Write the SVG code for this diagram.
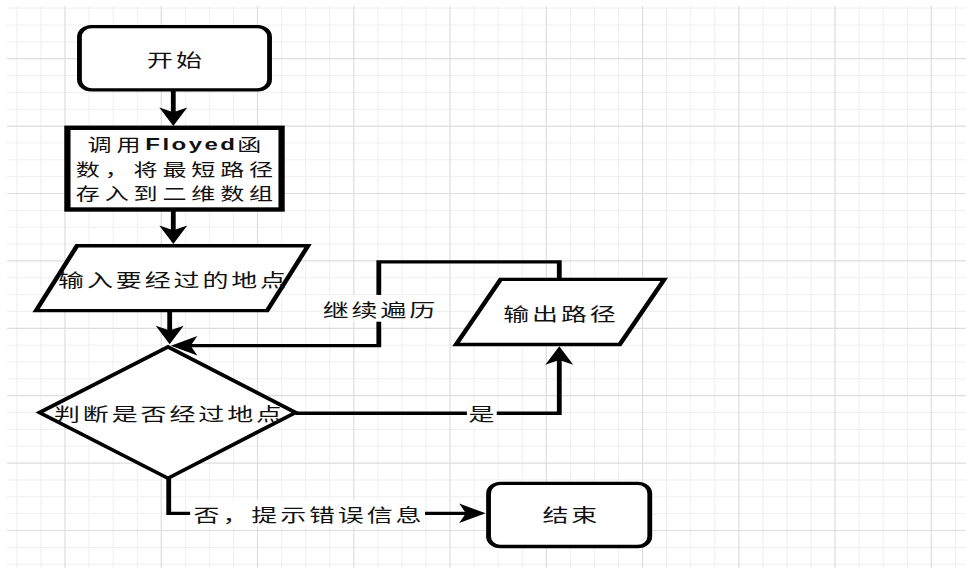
<svg xmlns="http://www.w3.org/2000/svg" width="966" height="568" viewBox="0 0 966 568">
  <style>
    .gmin { fill: none; stroke: #efefef; stroke-width: 1; }
    .gmaj { fill: none; stroke: #dddddd; stroke-width: 1.2; }
    .shape { fill: #ffffff; stroke: #000000; stroke-width: 2; }
    .thick { stroke-width: 2.6; }
    .edge { fill: none; stroke: #000000; stroke-width: 2; stroke-linejoin: miter; marker-end: url(#arrow); }
    .lbg { fill: #ffffff; }
    text { font-family: "Noto Sans CJK SC", "Noto Sans", sans-serif; font-size: 10.8px; letter-spacing: 1.2px; fill: #111111; text-anchor: middle; dominant-baseline: central; }
    .small { font-size: 10px; letter-spacing: 2px; }
    .latin { font-family: "Liberation Sans", "Noto Sans", sans-serif; font-weight: bold; letter-spacing: 1px; }
  </style>
  <defs>
    <marker id="arrow" markerUnits="userSpaceOnUse" orient="auto" overflow="visible" markerWidth="12" markerHeight="12" refX="0" refY="0">
      <path d="M3,0 L-8,-5.8 L-5.2,0 L-8,5.8 Z" fill="#000000"/>
    </marker>
  </defs>

  <rect width="966" height="568" fill="#ffffff"/>

  <!-- background grid -->
  <g id="grid">
    <path class="gmin" d="M16.87,6V568M40.94,6V568M89.07,6V568M113.13,6V568M137.2,6V568M185.33,6V568M209.39,6V568M233.46,6V568M281.59,6V568M305.65,6V568M329.72,6V568M377.85,6V568M401.91,6V568M425.98,6V568M474.11,6V568M498.17,6V568M522.24,6V568M570.37,6V568M594.43,6V568M618.5,6V568M666.63,6V568M690.69,6V568M714.76,6V568M762.89,6V568M786.95,6V568M811.02,6V568M859.15,6V568M883.21,6V568M907.28,6V568M955.41,6V568
      M7,8.15H966M7,25H966M7,41.85H966M7,75.55H966M7,92.4H966M7,109.25H966M7,142.95H966M7,159.8H966M7,176.65H966M7,210.35H966M7,227.2H966M7,244.05H966M7,277.75H966M7,294.6H966M7,311.45H966M7,345.15H966M7,362H966M7,378.85H966M7,412.55H966M7,429.4H966M7,446.25H966M7,479.95H966M7,496.8H966M7,513.65H966M7,547.35H966M7,564.2H966"/>
    <path class="gmaj" d="M65,6V568M161.26,6V568M257.52,6V568M353.78,6V568M450.04,6V568M546.3,6V568M642.56,6V568M738.82,6V568M835.08,6V568M931.34,6V568
      M7,58.7H966M7,126.1H966M7,193.5H966M7,260.9H966M7,328.3H966M7,395.7H966M7,463.1H966M7,530.5H966"/>
  </g>

  <!-- flowchart, laid out on a 10-unit grid and stretched to the page -->
  <g id="flowchart" transform="translate(-31.26,-8.7) scale(2.4065,1.685)">
    <g id="connectors">
      <path class="edge" d="M85,59 V77"/>
      <path class="edge" d="M85,130 V147"/>
      <path class="edge" d="M83.5,189.5 V206.5"/>
      <path class="edge" d="M245.4,171 V160.6 H170.4 V210.3 H87"/>
      <path class="edge" d="M135.8,250.4 H245.4 V213.6"/>
      <path class="edge" d="M83.1,289 V309.8 H211.8"/>

      <g id="label-continue">
        <rect class="lbg" x="147" y="180.2" width="47" height="15.9"/>
        <text x="171.1" y="188.2">继续遍历</text>
      </g>
      <g id="label-yes">
        <rect class="lbg" x="207" y="243" width="12.4" height="15"/>
        <text x="213.7" y="250.4">是</text>
      </g>
      <g id="label-no">
        <rect class="lbg" x="92" y="302" width="97.6" height="15.6"/>
        <text x="141.4" y="310">否，提示错误信息</text>
      </g>
    </g>

    <g id="start">
      <rect class="shape" x="46" y="21" width="79" height="37.5" rx="5" ry="6"/>
      <text x="86.1" y="40.3">开始</text>
    </g>

    <g id="call-floyd">
      <rect class="shape thick" x="41" y="81" width="89" height="48.5"/>
      <text class="small" x="86.5" y="90.6">调用<tspan class="latin">Floyed</tspan>函</text>
      <text class="small" x="86.5" y="105.2">数，将最短路径</text>
      <text class="small" x="86.5" y="119.8">存入到二维数组</text>
    </g>

    <g id="input-points">
      <polygon class="shape" points="45,151 141,151 124,189.5 28,189.5"/>
      <text x="85.1" y="170.7">输入要经过的地点</text>
    </g>

    <g id="check-points">
      <polygon class="shape" points="82.8,211 135.8,250 82.8,289 29.4,250"/>
      <text x="83.4" y="250.2">判断是否经过地点</text>
    </g>

    <g id="output-path">
      <polygon class="shape" points="221,171 289,171 270.5,209.6 202.5,209.6"/>
      <text x="246.1" y="191">输出路径</text>
    </g>

    <g id="end">
      <rect class="shape" x="216" y="292" width="67" height="37.5" rx="5" ry="6"/>
      <text x="250.4" y="310">结束</text>
    </g>
  </g>
</svg>
